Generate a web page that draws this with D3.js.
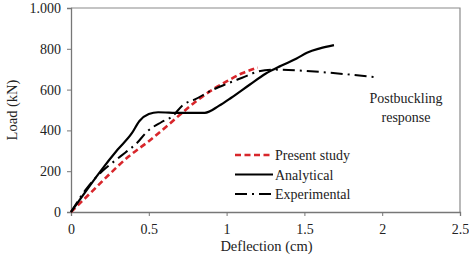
<!DOCTYPE html>
<html>
<head>
<meta charset="utf-8">
<script src="https://cdn.jsdelivr.net/npm/d3@7"></script>
<style>
  body { margin: 0; background: #fff; }
  text { font-family: "Liberation Serif", "Times New Roman", serif; fill: #222; }
</style>
</head>
<body>
<script>
// data (deflection in cm, load in kN)
var presentStudy = [[0,0],[0.11,82],[0.24,180],[0.37,272],[0.5,347],[0.63,430],[0.72,490],[0.8,540],[0.9,595],[1.0,640],[1.1,680],[1.2,708]]
var analytical = [[0,0],[0.11,117],[0.195,205],[0.3,306],[0.39,385],[0.44,446],[0.5,480],[0.56,489],[0.7,486],[0.86,486],[0.95,520],[1.03,560],[1.15,625],[1.25,678],[1.35,717],[1.45,752],[1.52,782],[1.6,802],[1.69,818]]
var experimental = [[0,0],[0.1,115],[0.2,200],[0.28,250],[0.35,292],[0.42,335],[0.49,395],[0.58,440],[0.65,468],[0.72,525],[0.8,553],[0.9,595],[1.0,628],[1.1,658],[1.2,688],[1.3,698],[1.5,692],[1.7,680],[1.97,660]]

var xTicks = [0, 0.5, 1, 1.5, 2, 2.5]
var xTickLabels = ["0", "0.5", "1", "1.5", "2", "2.5"]
var yTicks = [0, 200, 400, 600, 800, 1000]
var yTickLabels = ["0", "200", "400", "600", "800", "1.000"]

var seriesNames = ["Present study", "Analytical", "Experimental"]

// ************************************************************************************
// SETUP
// ************************************************************************************
var W = 469, H = 260
  , mLeft = 71, mRight = 460, mTop = 8, mBottom = 212

var svg = d3.select("body").append("svg")
	.attr("width", W)
	.attr("height", H)

var x = d3.scaleLinear().domain([0, 2.5]).range([mLeft, mRight])
var y = d3.scaleLinear().domain([0, 1000]).range([mBottom, mTop])

// frame (top & right)
svg.append("path")
	.attr("d", "M" + mLeft + "," + mTop + "H" + mRight + "V" + mBottom)
	.attr("fill", "none")
	.attr("stroke", "#8a8a8a")
	.attr("stroke-width", 1.2)

// axes
var xAxis = d3.axisBottom(x).tickValues(xTicks).tickSize(4).tickPadding(8)
	.tickFormat(function(d, i) { return xTickLabels[i] })
var yAxis = d3.axisLeft(y).tickValues(yTicks).tickSize(4).tickPadding(6)
	.tickFormat(function(d, i) { return yTickLabels[i] })

var gx = svg.append("g").attr("transform", "translate(0," + mBottom + ")").call(xAxis)
var gy = svg.append("g").attr("transform", "translate(" + mLeft + ",0)").call(yAxis)

;[gx, gy].forEach(function(g) {
	g.select(".domain").attr("stroke", "#777").attr("stroke-width", 1.3)
	g.selectAll(".tick line").attr("stroke", "#777")
	g.selectAll(".tick text")
		.style("font-family", "Liberation Serif, serif")
		.style("font-size", "14px")
		.attr("fill", "#222")
})

// axis titles
svg.append("text")
	.attr("x", (mLeft + mRight) / 2 + 1)
	.attr("y", 251)
	.attr("text-anchor", "middle")
	.style("font-size", "14.5px")
	.text("Deflection (cm)")

svg.append("text")
	.attr("transform", "translate(17," + (mTop + mBottom) / 2 + ") rotate(-90)")
	.attr("text-anchor", "middle")
	.style("font-size", "14.5px")
	.text("Load (kN)")

// ************************************************************************************
// CURVES
// ************************************************************************************
var line = d3.line()
	.x(function(d) { return x(d[0]) })
	.y(function(d) { return y(d[1]) })
	.curve(d3.curveMonotoneX)

var styles = [
	{ data: presentStudy, color: "#d8262b", width: 2.6, dash: "6,3.5" },
	{ data: analytical,   color: "#000",    width: 2.2, dash: null },
	{ data: experimental, color: "#000",    width: 2.0, dash: "12,5,2,5" }
]

styles.forEach(function(s) {
	svg.append("path")
		.datum(s.data)
		.attr("d", line)
		.attr("fill", "none")
		.attr("stroke", s.color)
		.attr("stroke-width", s.width)
		.attr("stroke-dasharray", s.dash)
})

// legend
var leg = svg.append("g").attr("transform", "translate(235,155)")
styles.forEach(function(s, i) {
	var ly = i * 19.5
	leg.append("line")
		.attr("x1", 0).attr("x2", 38)
		.attr("y1", ly).attr("y2", ly)
		.attr("stroke", s.color)
		.attr("stroke-width", s.width)
		.attr("stroke-dasharray", s.dash)
	leg.append("text")
		.attr("x", 40)
		.attr("y", ly + 5)
		.style("font-size", "14px")
		.text(seriesNames[i])
})

// annotation
svg.append("text")
	.attr("x", 406).attr("y", 103)
	.attr("text-anchor", "middle")
	.style("font-size", "14px")
	.text("Postbuckling")
svg.append("text")
	.attr("x", 406).attr("y", 122)
	.attr("text-anchor", "middle")
	.style("font-size", "14px")
	.text("response")
</script>
</body>
</html>
